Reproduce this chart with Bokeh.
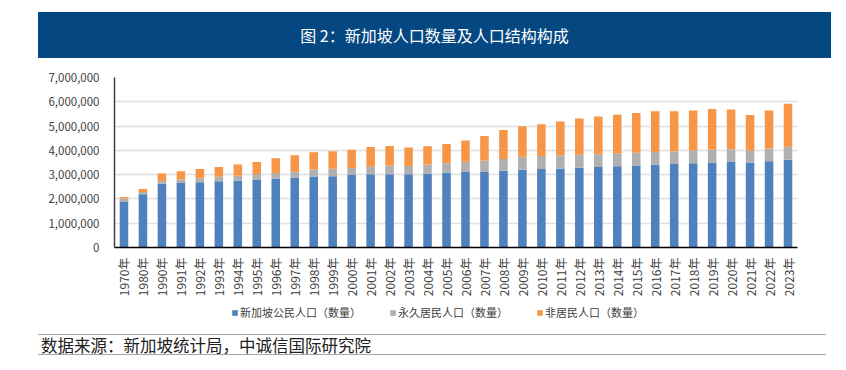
import math
from bokeh.plotting import figure
from bokeh.models import (ColumnDataSource, FactorRange, Range1d, NumeralTickFormatter,
                          Legend, LegendItem, Div, FixedTicker)
from bokeh.layouts import column
from bokeh.embed import file_html
from bokeh.resources import INLINE

years = ["1970年", "1980年", "1990年", "1991年", "1992年", "1993年", "1994年", "1995年",
         "1996年", "1997年", "1998年", "1999年", "2000年", "2001年", "2002年", "2003年",
         "2004年", "2005年", "2006年", "2007年", "2008年", "2009年", "2010年", "2011年",
         "2012年", "2013年", "2014年", "2015年", "2016年", "2017年", "2018年", "2019年",
         "2020年", "2021年", "2022年", "2023年"]

citizens = [1874800, 2194300, 2623700, 2656100, 2690500, 2724100, 2762200, 2802200,
            2843100, 2880800, 2918800, 2935000, 2985900, 3017000, 3018000, 3018000,
            3045000, 3081000, 3107900, 3133800, 3164400, 3200700, 3230700, 3257200,
            3285100, 3313500, 3343000, 3375000, 3408900, 3439200, 3471900, 3500900,
            3523200, 3498200, 3553700, 3610700]

permanent = [138800, 87800, 112100, 140000, 164000, 190000, 195000, 220000,
             220000, 235000, 288000, 312000, 287500, 305000, 355000, 342000,
             371000, 386800, 418000, 449200, 478200, 533200, 541000, 532000,
             533100, 531200, 527700, 527700, 524600, 526600, 522300, 525300,
             521000, 490500, 518700, 538600]

non_resident = [60900, 131800, 311300, 339000, 376000, 399000, 462000, 502000,
                608000, 680000, 720000, 712000, 754500, 816000, 803000, 755000,
                751000, 797900, 875500, 1005500, 1196700, 1253700, 1305000, 1394400,
                1494200, 1554500, 1599000, 1632300, 1673700, 1646500, 1644400, 1677400,
                1641600, 1467800, 1564400, 1768700]

series_names = ["新加坡公民人口（数量）", "永久居民人口（数量）", "非居民人口（数量）"]
y_ticks = [0, 1000000, 2000000, 3000000, 4000000, 5000000, 6000000, 7000000]

colors = ["#4f81bd", "#b0b0b0", "#f79646"]
FONT = "Noto Sans CJK SC"

src = ColumnDataSource(dict(year=years, c=citizens, p=permanent, n=non_resident))

banner = Div(
    text=("<div style='padding-top:12px;padding-left:38px;height:48px;box-sizing:border-box;'>"
          "<div style='width:793px;height:46px;"
          "background:#044781;color:white;font-family:\"Noto Sans CJK SC\";"
          "font-size:16px;line-height:46px;text-align:center;'>"
          "图 2：新加坡人口数量及人口结构构成</div></div>"),
    width=838, height=60, margin=(0, 0, 0, 0))

p = figure(x_range=FactorRange(*years, range_padding=0), y_range=Range1d(0, 7000000),
           width=838, height=240, output_backend="svg", toolbar_location=None,
           min_border_left=114, min_border_right=41, min_border_top=17, min_border_bottom=53)
p.outline_line_color = None
p.background_fill_color = "white"

r = p.vbar_stack(["c", "p", "n"], x="year", width=0.45, source=src,
                 color=colors, line_color=None)

p.yaxis.ticker = FixedTicker(ticks=y_ticks)
p.yaxis.formatter = NumeralTickFormatter(format="0,0")
p.yaxis.major_label_text_font = FONT
p.yaxis.major_label_text_font_size = "11.5px"
p.yaxis.major_label_text_color = "#404040"
p.yaxis.axis_line_color = "#404040"
p.yaxis.axis_line_width = 1.5
p.yaxis.major_tick_line_color = None
p.yaxis.minor_tick_line_color = None
p.yaxis.major_label_standoff = 9

p.xaxis.major_label_orientation = math.pi / 2
p.xaxis.major_label_text_font = FONT
p.xaxis.major_label_text_font_size = "12px"
p.xaxis.major_label_text_color = "#404040"
p.xaxis.axis_line_color = "#000000"
p.xaxis.axis_line_width = 1.5
p.xaxis.major_tick_line_color = None
p.xaxis.minor_tick_line_color = None
p.xaxis.major_label_standoff = 4

p.xgrid.grid_line_color = None
p.ygrid.grid_line_color = "#e0e0e0"
p.ygrid.grid_line_width = 1.5

# legend strip as its own small figure
lg = figure(width=838, height=25, output_backend="svg", toolbar_location=None,
            x_range=Range1d(0, 1), y_range=Range1d(0, 1),
            x_axis_type=None, y_axis_type=None,
            min_border_left=0, min_border_right=0, min_border_top=0, min_border_bottom=0)
lg.grid.visible = False
lg.outline_line_color = None
dummies = [lg.vbar(x=[-5], top=[-5], bottom=[-6], width=0.5, color=colors[i], line_color=None)
           for i in range(3)]
legend = Legend(items=[LegendItem(label=series_names[i], renderers=[dummies[i]]) for i in range(3)],
                orientation="horizontal", location=(117, 5),
                glyph_width=7, glyph_height=7, label_standoff=2, spacing=28,
                label_text_font=FONT, label_text_font_size="11px",
                label_text_color="#404040", background_fill_alpha=0,
                border_line_color=None, padding=0, margin=0)
lg.add_layout(legend, "center")

source = Div(
    text=("<div style='padding-top:9px;padding-left:38px;'>"
          "<div style='width:788px;height:21px;"
          "border-top:1px solid #a6a6a6;border-bottom:1px solid #a6a6a6;"
          "font-family:\"Noto Sans CJK SC\";font-size:16.5px;line-height:21px;"
          "color:#202020;padding-left:3px;'>"
          "数据来源：新加坡统计局，中诚信国际研究院</div></div>"),
    width=838, height=40, margin=(0, 0, 0, 0))

layout = column(banner, p, lg, source, spacing=0)
open("out.html", "w").write(file_html(layout, INLINE))
